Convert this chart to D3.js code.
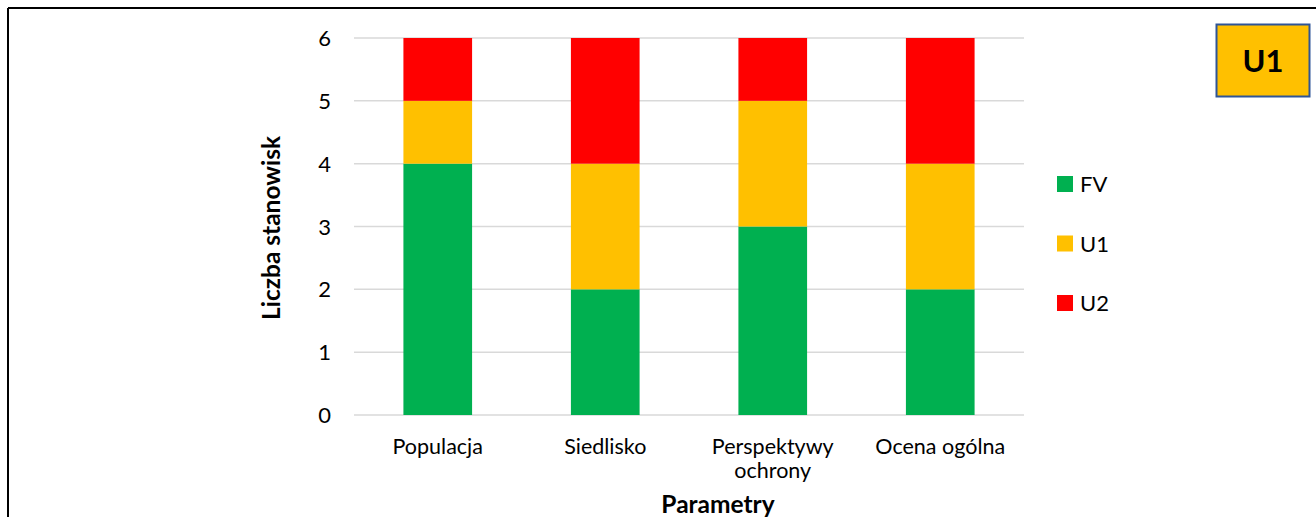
<!DOCTYPE html>
<html>
<head>
<meta charset="utf-8">
<script src="https://cdn.jsdelivr.net/npm/d3@7"></script>
<style>
  body { margin: 0; background: #fff; font-family: Lato, "Open Sans", sans-serif; }
  svg { display: block; }
</style>
</head>
<body>
<svg id="chart" width="1316" height="517"></svg>
<script>
// data
const categories = [["Populacja"], ["Siedlisko"], ["Perspektywy", "ochrony"], ["Ocena ogólna"]]
const seriesNames = ["FV", "U1", "U2"]
const fvValues = [4, 2, 3, 2]
const u1Values = [1, 2, 2, 2]
const u2Values = [1, 2, 1, 2]
const yTicks = [0, 1, 2, 3, 4, 5, 6]
const colors = ["#00B050", "#FFC000", "#FF0000"]

const svg = d3.select("#chart")

// frame: only top and left borders are visible
svg.append("line").attr("x1", 8).attr("x2", 1316).attr("y1", 8).attr("y2", 8)
    .attr("stroke", "#000").attr("stroke-width", 2)
svg.append("line").attr("x1", 8).attr("x2", 8).attr("y1", 8).attr("y2", 517)
    .attr("stroke", "#000").attr("stroke-width", 2)

const margin = { left: 354, right: 1024, top: 38, bottom: 415 }

const xScale = d3.scaleBand()
    .domain(categories.map(d => d.join(" ")))
    .range([margin.left, margin.right])
    .paddingInner(0.59)
    .paddingOuter(0.295)

const yScale = d3.scaleLinear()
    .domain([0, 6])
    .range([margin.bottom, margin.top])

// gridlines
svg.append("g")
    .selectAll("line")
    .data(yTicks)
    .enter()
    .append("line")
        .attr("x1", margin.left)
        .attr("x2", margin.right)
        .attr("y1", d => yScale(d))
        .attr("y2", d => yScale(d))
        .attr("stroke", "#d9d9d9")
        .attr("stroke-width", 1.5)

// stack
const rows = categories.map((c, i) => ({ key: c.join(" "), FV: fvValues[i], U1: u1Values[i], U2: u2Values[i] }))
const stacked = d3.stack().keys(seriesNames)(rows)

svg.append("g")
    .selectAll("g")
    .data(stacked)
    .enter()
    .append("g")
        .attr("fill", (d, i) => colors[i])
    .selectAll("rect")
    .data(d => d)
    .enter()
    .append("rect")
        .attr("x", d => xScale(d.data.key))
        .attr("y", d => yScale(d[1]))
        .attr("width", xScale.bandwidth())
        .attr("height", d => yScale(d[0]) - yScale(d[1]))

// y tick labels
svg.append("g")
    .selectAll("text")
    .data(yTicks)
    .enter()
    .append("text")
        .attr("x", 331)
        .attr("y", d => yScale(d) + 8)
        .attr("text-anchor", "end")
        .attr("font-size", "22px")
        .attr("fill", "#000")
        .text(d => d)

// x category labels
const xLabels = svg.append("g")
    .selectAll("text")
    .data(categories)
    .enter()
    .append("text")
        .attr("x", d => xScale(d.join(" ")) + xScale.bandwidth() / 2)
        .attr("y", 454)
        .attr("text-anchor", "middle")
        .attr("font-size", "21.5px")
        .attr("fill", "#000")

xLabels.selectAll("tspan")
    .data(d => d)
    .enter()
    .append("tspan")
        .attr("x", function() { return d3.select(this.parentNode).attr("x") })
        .attr("dy", (d, i) => i === 0 ? 0 : 24)
        .text(d => d)

// axis titles
svg.append("text")
    .attr("x", 718)
    .attr("y", 513)
    .attr("text-anchor", "middle")
    .attr("font-size", "24.5px")
    .attr("font-weight", "bold")
    .text("Parametry")

svg.append("text")
    .attr("transform", `translate(280, 228) rotate(-90)`)
    .attr("text-anchor", "middle")
    .attr("font-size", "24.5px")
    .attr("font-weight", "bold")
    .text("Liczba stanowisk")

// legend
const legend = svg.append("g")
    .selectAll("g")
    .data(seriesNames)
    .enter()
    .append("g")
        .attr("transform", (d, i) => `translate(1057, ${176 + i * 59.5})`)

legend.append("rect")
    .attr("width", 16)
    .attr("height", 16)
    .attr("fill", (d, i) => colors[i])

legend.append("text")
    .attr("x", 23)
    .attr("y", 16)
    .attr("font-size", "22px")
    .text(d => d)

// status badge
svg.append("rect")
    .attr("x", 1216.5)
    .attr("y", 24.5)
    .attr("width", 93)
    .attr("height", 72)
    .attr("fill", "#FFC000")
    .attr("stroke", "#2F5597")
    .attr("stroke-width", 2)

svg.append("text")
    .attr("x", 1263)
    .attr("y", 72)
    .attr("text-anchor", "middle")
    .attr("font-size", "31px")
    .attr("font-weight", "bold")
    .text("U1")
</script>
</body>
</html>
